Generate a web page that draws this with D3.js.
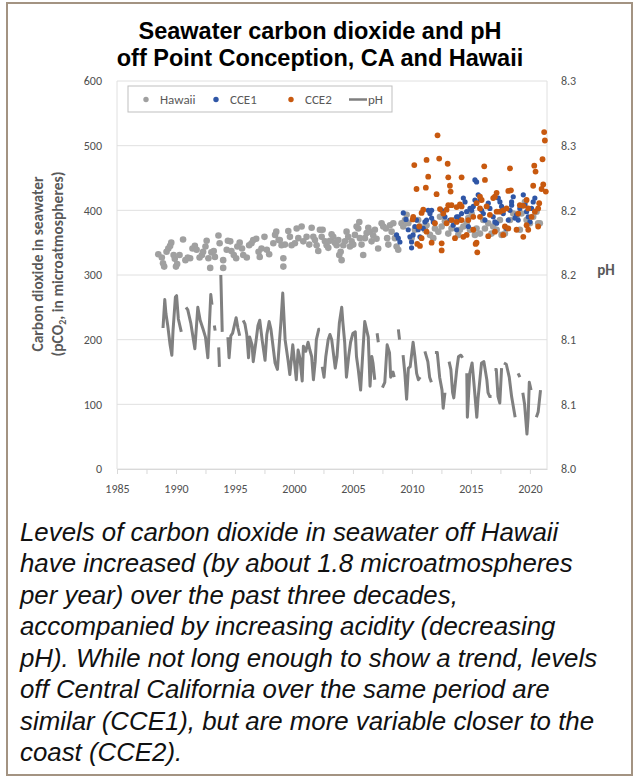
<!DOCTYPE html>
<html>
<head>
<meta charset="utf-8">
<script src="https://cdn.jsdelivr.net/npm/d3@7"></script>
<style>
  body { margin: 0; background: #fff; }
  .lbl { font-family: Calibri, Carlito, Lato, "Open Sans", sans-serif; }
  .arial { font-family: Arial, "Liberation Sans", sans-serif; }
</style>
</head>
<body>
<svg id="chart" width="634" height="778"></svg>
<script>
// --- data ---
// Hawaii pCO2 (year, microatm)
const hawaii = [
  [1988.5,332],[1988.8,327],[1988.9,318],[1989.0,313],[1989.2,336],[1989.35,341],[1989.5,345],[1989.6,350],
  [1989.8,331],[1989.9,325],[1990.0,313],[1990.1,317],[1990.3,331],[1990.6,355],[1990.8,323],[1991.0,327],
  [1991.2,326],[1991.4,341],[1991.6,345],[1991.75,339],[1992.0,327],[1992.2,331],[1992.3,336],[1992.5,344],
  [1992.6,353],[1992.75,326],[1992.9,311],[1993.0,335],[1993.2,337],[1993.3,328],[1993.6,361],[1993.7,349],
  [1994.0,323],[1994.0,311],[1994.3,339],[1994.4,353],[1994.6,352],[1994.7,337],[1994.9,331],[1995.1,326],
  [1995.2,344],[1995.4,350],[1995.6,341],[1995.7,331],[1996.0,327],[1996.2,346],[1996.4,349],[1996.55,354],
  [1996.8,356],[1997.0,336],[1997.1,328],[1997.25,341],[1997.5,359],[1997.7,339],[1997.9,332],[1998.25,349],
  [1998.4,362],[1998.5,367],[1998.7,354],
  [1998.8,354],[1998.95,346],[1999.1,326],[1999.1,313],[1999.24,347],[1999.52,368],[1999.66,359],[1999.8,346],
  [2000.08,349],[2000.23,372],[2000.37,357],[2000.65,375],[2000.79,352],[2001.07,359],[2001.3,347],[2001.5,373],
  [2001.64,359],[2001.78,354],[2001.92,346],[2002.06,337],[2002.2,370],[2002.35,359],[2002.43,370],[2002.63,352],
  [2002.77,346],[2002.91,342],[2003.05,353],[2003.19,363],[2003.33,359],[2003.47,350],[2003.62,346],[2003.76,354],
  [2003.84,331],[2003.96,336],[2004.04,323],[2004.18,346],[2004.32,352],[2004.46,367],[2004.6,359],[2004.75,344],
  [2004.89,352],[2005.03,347],[2005.17,362],[2005.31,375],[2005.45,372],[2005.54,382],[2005.59,357],[2005.73,347],
  [2005.87,331],[2006.02,357],[2006.16,365],[2006.3,373],[2006.44,367],[2006.58,352],[2006.72,361],[2006.86,370],
  [2007.0,356],[2007.14,341],[2007.43,380],[2007.57,375],[2007.8,372],[2007.9,357],[2008.0,347],[2008.14,377],
  [2008.28,367],[2008.42,380],[2008.56,357],[2008.7,344],[2008.84,339],
  [2009.12,380],[2009.27,375],[2009.41,385],[2009.55,393],[2009.69,380],[2009.97,357],[2010.25,370],[2010.53,385],
  [2010.68,375],[2011.1,370],[2011.24,377],[2011.53,362],[2011.81,357],[2011.95,372],[2012.24,367],[2012.38,390],
  [2012.52,375],[2012.8,383],[2013.08,364],[2013.36,372],[2013.65,385],[2013.93,362],[2014.07,370],[2014.36,375],
  [2014.64,380],[2014.78,388],[2014.92,370],[2015.06,395],[2015.34,362],[2015.48,372],[2015.77,364],[2016.05,385],
  [2016.19,372],[2016.47,380],[2016.75,364],[2016.89,375],[2017.18,370],[2017.46,385],[2017.6,362],[2017.88,364],
  [2018.02,372],[2018.31,385],[2018.59,395],[2018.87,390],[2019.15,370],[2019.29,395],[2019.58,413],[2019.72,385],
  [2020.0,380],[2020.28,390],[2020.56,398],[2020.7,380],[2020.84,380]
];

// CCE1 mooring pCO2
const cce1 = [
  [2008.7,362],[2008.84,357],[2008.98,351],[2009.27,396],[2009.5,386],[2009.69,370],[2009.83,359],[2009.97,351],
  [2009.97,342],[2010.1,362],[2010.25,375],[2010.39,385],[2010.53,370],[2010.68,359],[2010.96,372],[2011.1,382],
  [2011.24,385],[2011.38,400],[2011.53,395],[2011.67,388],[2011.67,400],[2011.81,382],[2012.52,400],[2012.8,390],
  [2013.22,385],[2013.5,377],[2013.79,390],[2013.79,370],[2013.93,390],[2014.07,385],[2014.21,395],[2014.36,419],
  [2014.5,413],[2014.64,398],[2014.78,375],[2014.92,403],[2015.06,400],[2015.2,406],[2015.34,416],[2015.34,447],
  [2015.48,444],[2015.62,424],[2015.77,416],[2015.91,400],[2016.05,395],[2016.19,385],[2016.47,411],[2016.61,403],
  [2016.89,390],[2017.03,382],[2017.18,380],[2017.32,419],[2017.46,413],[2017.6,406],[2017.74,395],[2018.02,372],
  [2018.17,385],[2018.31,400],[2018.45,408],[2018.45,413],[2018.59,421],[2018.73,388],[2018.87,393],[2019.01,385],
  [2019.15,403],[2019.44,424],[2019.58,408],[2019.72,398],[2019.86,390],[2020.0,382],[2020.14,403],[2020.28,413],
  [2020.42,419]
];

// CCE2 mooring pCO2
const cce2 = [
  [2010.06,386],[2010.11,390],[2010.2,470],[2010.39,433],[2010.45,348],[2010.62,375],[2010.68,345],[2010.82,396],
  [2010.82,357],[2010.96,401],[2011.18,435],[2011.24,478],[2011.24,367],[2011.38,452],[2011.67,350],[2011.95,380],
  [2012.09,425],[2012.17,516],[2012.31,480],[2012.38,402],[2012.52,349],[2012.52,338],[2012.66,395],[2012.94,401],
  [2012.94,380],[2013.03,472],[2013.08,451],[2013.08,408],[2013.22,438],[2013.28,429],[2013.36,408],[2013.36,385],
  [2013.65,357],[2013.79,405],[2013.79,382],[2014.07,409],[2014.21,451],[2014.21,406],[2014.21,385],[2014.36,359],
  [2014.64,362],[2014.78,385],[2015.2,370],[2015.2,390],[2015.4,348],[2015.48,350],[2015.48,411],[2015.54,335],
  [2015.77,421],[2015.77,403],[2015.77,390],[2015.91,416],[2016.13,468],[2016.19,447],[2016.33,406],[2016.47,360],
  [2016.61,393],[2016.89,419],[2017.03,421],[2017.03,367],[2017.18,427],[2017.18,398],[2017.46,398],[2017.74,400],
  [2017.74,362],[2017.88,375],[2018.02,403],[2018.17,430],[2018.17,372],[2018.31,465],[2018.39,431],[2018.87,370],
  [2019.01,395],[2019.15,408],[2019.44,407],[2019.44,359],[2019.72,416],[2019.72,377],[2019.86,403],[2019.86,370],
  [2020.14,390],[2020.28,438],[2020.37,469],[2020.42,398],[2020.48,460],[2020.7,403],[2020.7,375],[2020.79,411],
  [2020.99,433],[2021.07,479],[2021.13,440],[2021.21,521],[2021.27,508],[2021.35,429]
];

// Hawaii pH (year, pH); null = gap in the record
const ph = [
  [1988.9,8.109],[1989.05,8.131],[1989.15,8.120],[1989.3,8.111],[1989.5,8.096],[1989.65,8.088],[1989.75,8.107],
  [1989.95,8.133],[1990.05,8.134],[1990.2,8.116],[1990.45,8.106],[1990.65,null],
  [1990.85,8.125],[1991.0,8.123],[1991.25,8.113],[1991.6,8.093],[1991.85,8.125],[1992.05,8.115],[1992.3,8.108],
  [1992.5,8.102],[1992.7,8.086],[1992.95,8.135],[1993.05,8.127],[1993.15,null],
  [1993.25,8.111],[1993.32,8.107],[1993.5,null],
  [1993.62,8.094],[1993.68,8.079],[1993.74,null],
  [1993.8,8.150],[1993.92,8.106],[1994.2,null],
  [1994.4,8.102],[1994.5,8.086],[1994.65,8.103],[1994.8,8.105],[1995.1,8.117],[1995.25,8.109],[1995.4,8.103],
  [1995.55,null],
  [1995.7,8.115],[1995.85,8.112],[1996.0,8.104],[1996.15,8.086],[1996.25,8.102],[1996.45,8.096],[1996.55,8.083],
  [1996.8,8.100],[1996.95,8.111],[1997.1,8.115],[1997.3,8.100],[1997.55,8.084],[1997.7,8.104],[1997.9,8.114],
  [1998.05,8.108],[1998.4,8.082],[1998.6,8.077],[1998.75,8.096],[1998.9,8.114],[1999.05,8.136],[1999.25,8.100],
  [1999.5,8.084],[1999.65,8.073],[1999.9,8.096],[2000.2,8.069],[2000.35,8.092],[2000.5,8.086],[2000.7,8.068],
  [2000.8,8.095],[2001.0,8.091],[2001.2,8.098],[2001.35,8.092],[2001.5,8.087],[2001.65,8.069],[2001.8,8.083],
  [2001.9,8.100],[2002.1,8.108],[2002.2,8.108],[2002.3,null],
  [2002.4,8.079],[2002.55,8.071],[2002.7,8.087],[2002.9,8.100],[2003.05,8.104],[2003.2,8.100],[2003.5,8.078],
  [2003.65,8.087],[2003.85,8.113],[2004.05,8.125],[2004.15,8.113],[2004.3,8.098],[2004.45,8.071],[2004.65,8.088],
  [2004.8,8.098],[2005.0,8.105],[2005.2,8.106],[2005.3,8.087],[2005.45,8.077],[2005.65,8.061],[2005.85,8.092],
  [2006.0,8.114],[2006.15,8.108],[2006.3,8.102],[2006.45,8.064],[2006.6,8.087],[2006.7,8.082],[2006.85,8.069],
  [2006.95,null],
  [2007.05,8.105],[2007.15,8.098],[2007.3,null],
  [2007.5,8.063],[2007.7,8.067],[2007.9,8.096],[2008.1,8.090],[2008.2,8.071],[2008.4,8.075],[2008.5,8.071],
  [2008.7,null],
  [2008.85,8.108],[2008.95,8.100],[2009.1,null],
  [2009.25,8.088],[2009.4,8.074],[2009.55,8.054],[2009.7,8.078],[2009.85,8.079],[2010.1,8.098],[2010.25,8.087],
  [2010.4,8.074],[2010.55,8.069],[2010.7,8.071],[2010.9,null],
  [2011.1,8.091],[2011.35,8.083],[2011.5,8.071],[2011.65,8.067],[2011.8,null],
  [2011.95,8.090],[2012.15,8.090],[2012.35,8.071],[2012.55,8.061],[2012.65,8.047],[2012.8,8.059],[2013.0,null],
  [2013.15,8.083],[2013.3,8.077],[2013.45,8.059],[2013.55,8.055],[2013.8,8.077],[2013.95,8.087],[2014.15,8.088],
  [2014.3,8.086],[2014.5,null],
  [2014.65,8.074],[2014.7,8.040],[2014.9,8.074],[2015.1,8.082],[2015.25,8.067],[2015.5,8.040],[2015.6,8.054],
  [2015.9,8.082],[2016.1,8.083],[2016.35,8.069],[2016.45,8.059],[2016.6,8.056],[2016.75,8.056],[2016.88,null],
  [2017.0,8.077],[2017.15,8.077],[2017.3,8.056],[2017.45,8.051],[2017.6,8.078],[2017.7,null],
  [2017.8,8.082],[2018.0,8.081],[2018.25,8.071],[2018.45,8.056],[2018.75,8.040],[2018.88,null],
  [2019.0,8.074],[2019.15,8.071],[2019.28,null],
  [2019.4,8.059],[2019.55,8.050],[2019.75,8.027],[2019.85,8.040],[2019.95,8.067],[2020.1,8.061],[2020.3,null],
  [2020.55,8.040],[2020.7,8.044],[2020.9,8.061]
];

// axes ticks and labels
const pco2Ticks = [0, 100, 200, 300, 400, 500, 600];
const phTicks = [8.00, 8.05, 8.10, 8.15, 8.20, 8.25, 8.30];
const phTickLabels = ['8.0', '8.1', '8.1', '8.2', '8.2', '8.3', '8.3'];
const yearTicks = [1985, 1987.5, 1990, 1992.5, 1995, 1997.5, 2000, 2002.5, 2005, 2007.5, 2010, 2012.5, 2015, 2017.5, 2020];
const yearLabels = [1985, 1990, 1995, 2000, 2005, 2010, 2015, 2020];

const legendItems = [
  { label: 'Hawaii', color: '#a0a0a0', type: 'dot' },
  { label: 'CCE1', color: '#2f56a6', type: 'dot' },
  { label: 'CCE2', color: '#c8590f', type: 'dot' },
  { label: 'pH', color: '#7f7f7f', type: 'line' }
];

const captionLines = [
  'Levels of carbon dioxide in seawater off Hawaii',
  'have increased (by about 1.8 microatmospheres',
  'per year) over the past three decades,',
  'accompanied by increasing acidity (decreasing',
  'pH). While not long enough to show a trend, levels',
  'off Central California over the same period are',
  'similar (CCE1), but are more variable closer to the',
  'coast (CCE2).'
];

// --- drawing ---
const svg = d3.select('#chart');

svg.append('rect')
  .attr('x', 7).attr('y', 3)
  .attr('width', 625).attr('height', 772)
  .attr('fill', '#fff')
  .attr('stroke', '#a39382')
  .attr('stroke-width', 2);

const x = d3.scaleLinear().domain([1985, 2021.45]).range([117, 547]);
const y = d3.scaleLinear().domain([0, 600]).range([469, 81]);
const yPh = d3.scaleLinear().domain([8.0, 8.3]).range([469, 81]);

// gridlines
svg.append('g')
  .selectAll('line')
  .data(pco2Ticks)
  .join('line')
  .attr('x1', x.range()[0]).attr('x2', x.range()[1])
  .attr('y1', d => y(d)).attr('y2', d => y(d))
  .attr('stroke', '#e0e0e0')
  .attr('stroke-width', 1);

// side frame lines
svg.append('line')
  .attr('x1', x.range()[0]).attr('x2', x.range()[0])
  .attr('y1', y(0)).attr('y2', y(600))
  .attr('stroke', '#e0e0e0');
svg.append('line')
  .attr('x1', x.range()[1]).attr('x2', x.range()[1])
  .attr('y1', y(0)).attr('y2', y(600))
  .attr('stroke', '#e0e0e0');

// left axis
const leftAxis = svg.append('g')
  .attr('class', 'lbl')
  .attr('transform', 'translate(' + x.range()[0] + ',0)')
  .call(d3.axisLeft(y).tickValues(pco2Ticks).tickSize(0).tickPadding(15));
leftAxis.select('.domain').remove();
leftAxis.selectAll('text').attr('font-size', 12).attr('fill', '#505050').attr('font-family', null);

// right axis
const rightAxis = svg.append('g')
  .attr('class', 'lbl')
  .attr('transform', 'translate(' + x.range()[1] + ',0)')
  .call(d3.axisRight(yPh).tickValues(phTicks)
    .tickFormat(function (d, i) { return phTickLabels[i]; })
    .tickSize(0).tickPadding(14));
rightAxis.select('.domain').remove();
rightAxis.selectAll('text').attr('font-size', 12).attr('fill', '#505050').attr('font-family', null);

// bottom axis
const bottomAxis = svg.append('g')
  .attr('class', 'lbl')
  .attr('transform', 'translate(0,' + y(0) + ')')
  .call(d3.axisBottom(x).tickValues(yearTicks)
    .tickFormat(function (d) { return yearLabels.includes(d) ? d : ''; })
    .tickSize(5).tickPadding(10).tickSizeOuter(0));
bottomAxis.select('.domain').attr('stroke', '#d9d9d9');
bottomAxis.selectAll('line').attr('stroke', '#d9d9d9');
bottomAxis.selectAll('text').attr('font-size', 12).attr('fill', '#505050').attr('font-family', null);

// scatter series
function drawDots(data, color, r) {
  svg.append('g')
    .selectAll('circle')
    .data(data)
    .join('circle')
    .attr('cx', d => x(d[0]))
    .attr('cy', d => y(d[1]))
    .attr('r', r)
    .attr('fill', color);
}
drawDots(hawaii, '#a0a0a0', 3.3);
drawDots(cce1, '#2f56a6', 2.6);
drawDots(cce2, '#c8590f', 2.9);

// pH line
const phLine = d3.line()
  .defined(d => d[1] !== null)
  .x(d => x(d[0]))
  .y(d => yPh(d[1]));
svg.append('path')
  .datum(ph)
  .attr('d', phLine)
  .attr('fill', 'none')
  .attr('stroke', '#808080')
  .attr('stroke-width', 3)
  .attr('stroke-linejoin', 'round');

// legend
const legend = svg.append('g').attr('class', 'lbl');
legend.append('rect')
  .attr('x', 128).attr('y', 86)
  .attr('width', 264).attr('height', 26)
  .attr('fill', '#fff')
  .attr('stroke', '#bfbfbf');
const legendX = [146, 216, 291, 349];
const items = legend.selectAll('.legend')
  .data(legendItems)
  .enter()
  .append('g')
  .attr('class', 'legend')
  .attr('transform', function (d, i) { return 'translate(' + legendX[i] + ', 99.5)'; });
items.filter(d => d.type === 'dot').append('circle')
  .attr('r', 2.7)
  .attr('fill', d => d.color);
items.filter(d => d.type === 'line').append('line')
  .attr('x1', 0).attr('x2', 18)
  .attr('stroke', d => d.color)
  .attr('stroke-width', 2.5);
items.append('text')
  .attr('x', d => d.type === 'line' ? 19 : 14)
  .attr('y', 4.5)
  .attr('font-size', 13)
  .attr('fill', '#595959')
  .text(d => d.label);

// axis titles
const yTitle = svg.append('g')
  .attr('class', 'lbl')
  .attr('transform', 'translate(0,264) rotate(-90)')
  .attr('text-anchor', 'middle')
  .attr('font-weight', 'bold')
  .attr('font-size', 15.5)
  .attr('fill', '#595959');
yTitle.append('text').attr('y', 43).text('Carbon dioxide in seawater');
const t2 = yTitle.append('text').attr('y', 63);
t2.append('tspan').text('(pCO');
t2.append('tspan').attr('font-size', 10).attr('dy', 3).text('2');
t2.append('tspan').attr('dy', -3).text(', in microatmospheres)');

svg.append('text')
  .attr('class', 'lbl')
  .attr('x', 606).attr('y', 275)
  .attr('text-anchor', 'middle')
  .attr('font-weight', 'bold')
  .attr('font-size', 15)
  .attr('fill', '#595959')
  .text('pH');

// title
const title = svg.append('g')
  .attr('class', 'arial')
  .attr('text-anchor', 'middle')
  .attr('font-weight', 'bold')
  .attr('font-size', 23.5)
  .attr('fill', '#000');
title.append('text').attr('x', 320).attr('y', 39).text('Seawater carbon dioxide and pH');
title.append('text').attr('x', 320).attr('y', 66).text('off Point Conception, CA and Hawaii');

// caption
svg.append('g')
  .attr('class', 'arial')
  .attr('transform', 'translate(20,0) scale(0.975,1)')
  .attr('font-style', 'italic')
  .attr('font-size', 26.5)
  .attr('fill', '#111')
  .selectAll('text')
  .data(captionLines)
  .join('text')
  .attr('x', 0)
  .attr('y', (d, i) => 541 + i * 31.5)
  .text(d => d);
</script>
</body>
</html>
